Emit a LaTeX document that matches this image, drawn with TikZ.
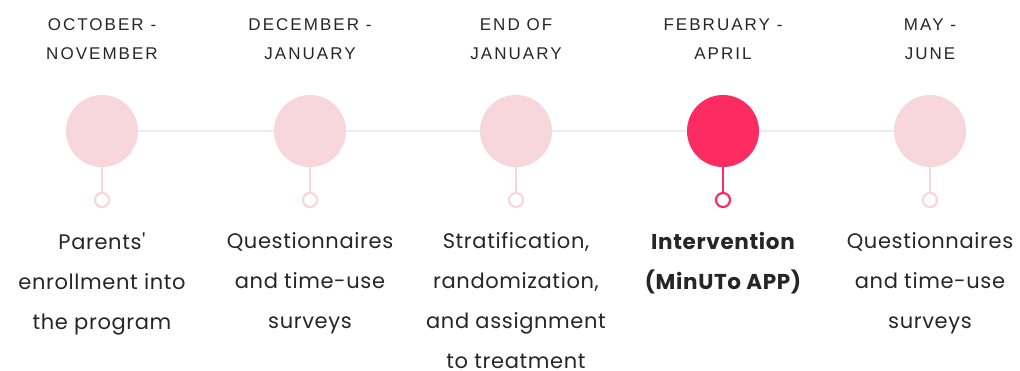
\documentclass[tikz,border=0pt]{standalone}
\usepackage{fontspec}
\setmainfont{Poppins}[Ligatures=TeXOff,LetterSpace=3]
\newfontfamily\topfont[LetterSpace=12]{Liberation Sans}
\definecolor{softpink}{HTML}{F7D7DB}
\definecolor{hotpink}{HTML}{FC2B61}
\definecolor{linegray}{HTML}{ECECEC}
\definecolor{txt}{HTML}{262626}
\begin{document}
\begin{tikzpicture}[x=1pt,y=-1pt,
  bigdot/.style={circle,minimum size=72pt,inner sep=0pt,fill=#1},
  smalldot/.style={circle,minimum size=14pt,inner sep=0pt,draw=#1,line width=2.2pt,fill=white},
  stem/.style={line width=2.4pt,draw=#1},
  datetxt/.style={font=\topfont\fontsize{17}{29}\selectfont,text=txt,align=center,anchor=center},
  desctxt/.style={font=\fontsize{21}{40}\selectfont,text=txt,align=center,anchor=north}]
\useasboundingbox (0,0) rectangle (1020,370);
\foreach \i/\x/\c in {1/102/softpink,2/310/softpink,3/516/softpink,4/723/hotpink,5/930/softpink}{
  \node[bigdot=\c] (b\i) at (\x,131) {};
  \node[smalldot=\c] (s\i) at (\x,200) {};
}
\draw[linegray,line width=2.4pt] (b1) -- (b2);
\draw[linegray,line width=2.4pt] (b2) -- (b3);
\draw[linegray,line width=2.4pt] (b3) -- (b4);
\draw[linegray,line width=2.4pt] (b4) -- (b5);
\foreach \i/\c in {1/softpink,2/softpink,3/softpink,4/hotpink,5/softpink}{
  \draw[stem=\c] (b\i.south) -- (s\i.north);
}
\node[datetxt] (d1) at (102,39) {OCTOBER -\\NOVEMBER};
\node[datetxt] (d2) at (310,39) {DECEMBER -\\JANUARY};
\node[datetxt] (d3) at (516,39) {END OF\\JANUARY};
\node[datetxt] (d4) at (723,39) {FEBRUARY -\\APRIL};
\node[datetxt] (d5) at (930,39) {MAY -\\JUNE};
\node[desctxt] (t1) at (102,229) {Parents'\\enrollment into\\the program};
\node[desctxt] (t2) at (310,229) {Questionnaires\\and time-use\\surveys};
\node[desctxt] (t3) at (516,229) {Stratification,\\randomization,\\and assignment\\to treatment};
\node[desctxt,font=\bfseries\fontsize{21.5}{40}\selectfont] (t4) at (723,229) {Intervention\\(MinUTo APP)};
\node[desctxt] (t5) at (930,229) {Questionnaires\\and time-use\\surveys};
\end{tikzpicture}
\end{document}
